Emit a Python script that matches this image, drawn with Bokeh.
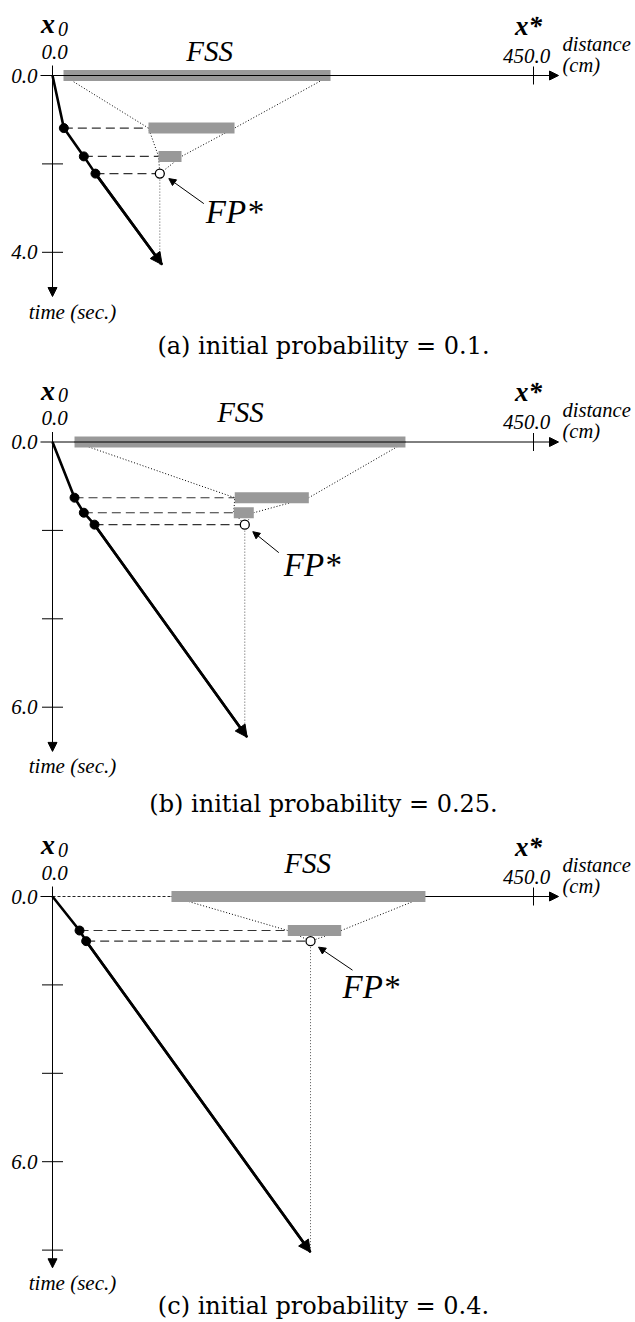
from bokeh.plotting import figure
from bokeh.layouts import column
from bokeh.models import Range1d, Arrow, NormalHead
from bokeh.core.properties import value
from bokeh.embed import file_html
from bokeh.resources import INLINE

# ---------------- data (distance in cm, time in s) ----------------
X_TICKS = [0.0, 450.0]
X_TICK_TEXT = ["0.0", "450.0"]
X_HEAD_TEXT = ["x", "x*"]

# panel (a): initial probability 0.1
A_PROB = "0.1"
A_FSS_START = [10.3, 89.8, 99.2]
A_FSS_END = [260.1, 170.3, 120.7]
A_FSS_T = [0.0, 1.19, 1.83]
A_TRAJ_X = [0.0, 10.6, 29.3, 40.2, 102.6]
A_TRAJ_T = [0.0, 1.19, 1.83, 2.22, 4.28]
A_FP = [100.4, 2.22]
A_T_TICKS = [0, 2, 4]
A_T_TEXT = ["0.0", "", "4.0"]
A_T_END = 5.0

# panel (b): initial probability 0.25
B_PROB = "0.25"
B_FSS_START = [20.6, 170.5, 169.6]
B_FSS_END = [330.2, 239.8, 188.3]
B_FSS_T = [0.0, 1.26, 1.60]
B_TRAJ_X = [0.0, 20.6, 29.3, 39.3, 182.1]
B_TRAJ_T = [0.0, 1.26, 1.60, 1.87, 6.68]
B_FP = [179.9, 1.87]
B_T_TICKS = [0, 2, 4, 6]
B_T_TEXT = ["0.0", "", "", "6.0"]
B_T_END = 7.0

# panel (c): initial probability 0.4
C_PROB = "0.4"
C_FSS_START = [111.3, 220.1]
C_FSS_END = [348.9, 270.1]
C_FSS_T = [0.0, 0.77]
C_TRAJ_X = [0.0, 25.3, 31.5, 241.4]
C_TRAJ_T = [0.0, 0.77, 1.01, 8.05]
C_FP = [241.4, 1.01]
C_T_TICKS = [0, 2, 4, 6, 8]
C_T_TEXT = ["0.0", "", "", "6.0", ""]
C_T_END = 8.4

# ---------------- layout / style ----------------
PX_PER_CM = 481.0 / 450.0
PX_PER_S = 44.2
FIG_W = 635
X0_PX = 52
SERIF = value("Liberation Serif")
CAPTION_FONT = value("DejaVu Serif")
GRAY = "#999999"


def dx(px):
    return px / PX_PER_CM


def dt(px):
    return px / PX_PER_S


PANELS = [
    dict(key="a", prob=A_PROB, fs=A_FSS_START, fe=A_FSS_END, ft=A_FSS_T,
         tx=A_TRAJ_X, tt=A_TRAJ_T, fp=A_FP, ticks=A_T_TICKS, ttext=A_T_TEXT, tend=A_T_END,
         height=372, axis_px=75, fss_lab=(146.9, -24.5), fp_lab=(46, 38), fp_tail=(44, 30),
         fp_head=(9, 5), caption_px=270, origin_dashed=False),
    dict(key="b", prob=B_PROB, fs=B_FSS_START, fe=B_FSS_END, ft=B_FSS_T,
         tx=B_TRAJ_X, tt=B_TRAJ_T, fp=B_FP, ticks=B_T_TICKS, ttext=B_T_TEXT, tend=B_T_END,
         height=450, axis_px=69.5, fss_lab=(175.9, -30), fp_lab=(39, 40), fp_tail=(34, 28),
         fp_head=(8, 7), caption_px=362, origin_dashed=False),
    dict(key="c", prob=C_PROB, fs=C_FSS_START, fe=C_FSS_END, ft=C_FSS_T,
         tx=C_TRAJ_X, tt=C_TRAJ_T, fp=C_FP, ticks=C_T_TICKS, ttext=C_T_TEXT, tend=C_T_END,
         height=498, axis_px=74, fss_lab=(238.6, -33.5), fp_lab=(32, 46), fp_tail=(42, 29),
         fp_head=(8, 6), caption_px=409, origin_dashed=True),
]


def txt(p, xs, ys, texts, size, style="italic", align="center", font=SERIF):
    p.text(x=xs, y=ys, text=texts, text_font=font, text_font_style=style,
           text_font_size=size, text_align=align, text_baseline="middle",
           text_color="black")


def make_panel(c):
    H = c["height"]
    p = figure(width=FIG_W, height=H,
               x_range=Range1d(-dx(X0_PX), dx(FIG_W - X0_PX)),
               y_range=Range1d((H - c["axis_px"]) / PX_PER_S, -c["axis_px"] / PX_PER_S),
               output_backend="svg", toolbar_location=None,
               x_axis_location=None, y_axis_location=None,
               min_border=0, outline_line_color=None)
    p.grid.visible = False
    p.background_fill_color = "white"
    p.border_fill_color = "white"

    x_tip = dx(558 - 52)
    # horizontal (distance) axis
    if c["origin_dashed"]:
        p.segment(x0=[-dx(12)], y0=[0], x1=[0], y1=[0], line_color="black", line_width=1)
        p.segment(x0=[0], y0=[0], x1=[c["fs"][0]], y1=[0], line_color="#222222",
                  line_width=1, line_dash="3 2")
        ax_start = c["fe"][0]
    else:
        ax_start = -dx(12)
    p.add_layout(Arrow(end=NormalHead(size=9, fill_color="black", line_color="black"),
                       x_start=ax_start, y_start=0, x_end=x_tip, y_end=0,
                       line_color="black", line_width=1))
    # x* tick
    p.segment(x0=[X_TICKS[1]], y0=[-dt(9)], x1=[X_TICKS[1]], y1=[dt(9)],
              line_color="black", line_width=1)
    # vertical (time) axis
    p.add_layout(Arrow(end=NormalHead(size=9, fill_color="black", line_color="black"),
                       x_start=0, y_start=-dt(10), x_end=0, y_end=c["tend"],
                       line_color="black", line_width=1))
    tk = [t for t in c["ticks"] if t != 0]
    p.segment(x0=[-dx(10.5)] * len(tk), y0=tk, x1=[dx(10.5)] * len(tk), y1=tk,
              line_color="black", line_width=1)

    fpx, fpt = c["fp"]
    # dotted envelope lines
    p.line(c["fs"] + [fpx], c["ft"] + [fpt], line_color="black", line_width=1, line_dash="1 2")
    p.line(c["fe"] + [fpx], c["ft"] + [fpt], line_color="black", line_width=1, line_dash="1 2")
    p.segment(x0=[fpx], y0=[fpt], x1=[fpx], y1=[c["tt"][-1]], line_color="#555555",
              line_width=1, line_dash="1 2")
    # dashed lines from trajectory points to FSS bars / FP*
    pts_x = c["tx"][1:-1]
    pts_t = c["tt"][1:-1]
    targets = c["fs"][1:] + [fpx]
    p.segment(x0=pts_x, y0=pts_t, x1=targets, y1=pts_t, line_color="#333333",
              line_width=1.1, line_dash="9 5")
    # FSS bars
    p.hbar(y=c["ft"], left=c["fs"], right=c["fe"], height=dt(11), fill_color=GRAY,
           line_color=None)
    # trajectory
    p.line(c["tx"], c["tt"], line_color="black", line_width=2.6)
    p.add_layout(Arrow(end=NormalHead(size=12, fill_color="black", line_color="black"),
                       x_start=c["tx"][-2], y_start=c["tt"][-2],
                       x_end=c["tx"][-1], y_end=c["tt"][-1],
                       line_color="black", line_width=2.6))
    p.scatter(pts_x, pts_t, size=9, fill_color="black", line_color="black")
    p.scatter([fpx], [fpt], size=9, fill_color="white", line_color="black", line_width=1.3)
    # FP* pointer
    hx, hy = c["fp_head"]
    tx_, ty_ = c["fp_tail"]
    p.add_layout(Arrow(end=NormalHead(size=7, fill_color="black", line_color="black"),
                       x_start=fpx + dx(tx_), y_start=fpt + dt(ty_),
                       x_end=fpx + dx(hx), y_end=fpt + dt(hy),
                       line_color="black", line_width=1))
    lx, ly = c["fp_lab"]
    txt(p, [fpx + dx(lx)], [fpt + dt(ly)], ["FP*"], "33px", align="left")

    # texts
    txt(p, [c["fss_lab"][0]], [dt(c["fss_lab"][1])], ["FSS"], "29px")
    txt(p, [-dx(4.5)], [-dt(52)], [X_HEAD_TEXT[0]], "28px", style="bold italic")
    txt(p, [dx(10.5)], [-dt(47)], ["0"], "20px")
    txt(p, [X_TICKS[1] - dx(5)], [-dt(50)], [X_HEAD_TEXT[1]], "27px", style="bold italic")
    txt(p, [X_TICKS[0] + dx(2), X_TICKS[1] - dx(7)], [-dt(24), -dt(20)], X_TICK_TEXT, "21px")
    txt(p, [x_tip + dx(4)] * 2, [-dt(32), -dt(11)], ["distance", "(cm)"], "20.5px",
        align="left")
    lab_t = [t for t, s in zip(c["ticks"], c["ttext"]) if s]
    lab_s = [s for s in c["ttext"] if s]
    txt(p, [-dx(15)] * len(lab_t), lab_t, lab_s, "21px", align="right")
    txt(p, [dx(20)], [c["tend"] + dt(15)], ["time (sec.)"], "21px")
    txt(p, [dx(323 - 52)], [dt(c["caption_px"])],
        ["(%s) initial probability = %s." % (c["key"], c["prob"])], "24px",
        style="normal", font=CAPTION_FONT)
    return p


figs = [make_panel(c) for c in PANELS]
layout = column(*figs, spacing=0)
open("out.html", "w").write(file_html(layout, INLINE))
